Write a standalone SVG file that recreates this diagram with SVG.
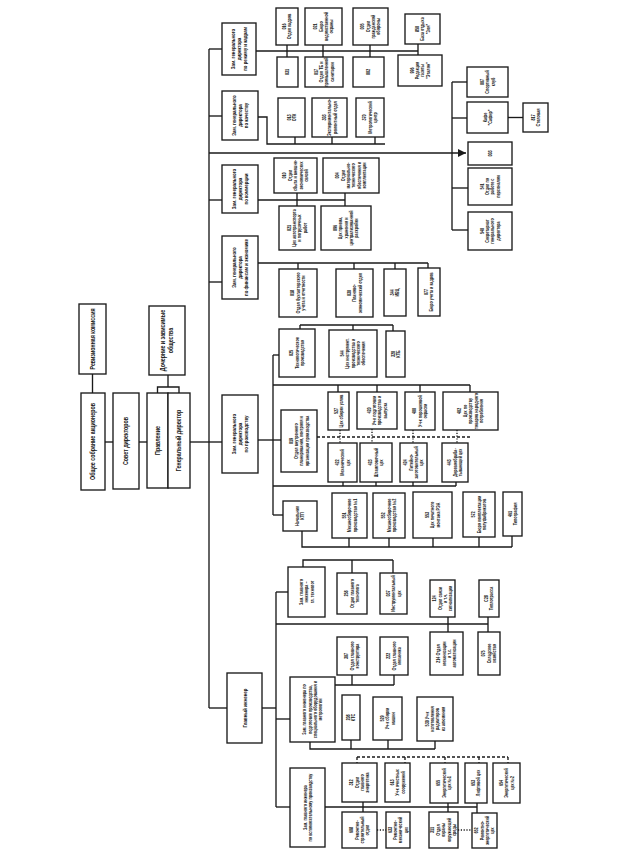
<svg xmlns="http://www.w3.org/2000/svg" width="636" height="853" viewBox="0 0 636 853">
<defs>
<style>
rect{fill:#fff;stroke:#1a1a1a;stroke-width:1.35}
.c line,.c polyline{stroke:#1a1a1a;stroke-width:1.35;fill:none}
.c .d{stroke-dasharray:3 2}
.c .o{stroke-dasharray:1.2 1.6}
text{font-family:"Liberation Sans",Arial,sans-serif;fill:#151515;text-anchor:middle;font-weight:bold}
.s{font-size:4.8px}
.z{font-size:5.6px}
.b{font-size:6.8px}
</style>
<marker id="ar" viewBox="0 0 6 6" refX="6" refY="3" markerWidth="6" markerHeight="6" orient="auto"><path d="M0,0 L6,3 L0,6 z" fill="#1a1a1a"/></marker>
</defs>
<rect x="0" y="0" width="636" height="853" style="fill:#fff;stroke:none"/>

<g class="c" id="connectors">
<line x1="92.5" y1="374" x2="92.5" y2="393"/>
<line x1="105" y1="442" x2="113" y2="442"/>
<line x1="139" y1="442" x2="147" y2="442"/>
<polyline points="168,375 168,387"/>
<polyline points="157.5,393 157.5,387 179,387 179,393"/>
<line x1="190" y1="442" x2="209" y2="442"/>
<line x1="209" y1="49" x2="209" y2="708"/>
<line x1="209" y1="49" x2="222" y2="49"/>
<line x1="209" y1="116" x2="222" y2="116"/>
<line x1="209" y1="153" x2="466" y2="153" marker-end="url(#ar)"/>
<line x1="209" y1="200" x2="222" y2="200"/>
<line x1="209" y1="282" x2="222" y2="282"/>
<line x1="209" y1="442" x2="222" y2="442"/>
<line x1="209" y1="708" x2="227" y2="708"/>
<line x1="256" y1="51" x2="418" y2="51"/>
<line x1="287" y1="45" x2="287" y2="57"/>
<line x1="323" y1="45" x2="323" y2="57"/>
<line x1="370" y1="45" x2="370" y2="57"/>
<line x1="418" y1="44" x2="418" y2="55"/>
<line x1="452" y1="82" x2="452" y2="230"/>
<line x1="452" y1="82" x2="467" y2="82"/>
<line x1="452" y1="118" x2="467" y2="118"/>
<line x1="452" y1="188" x2="468" y2="188"/>
<line x1="452" y1="230" x2="468" y2="230"/>
<line x1="508" y1="117.5" x2="523" y2="117.5"/>
<polyline points="258,117 267,117 267,144 385,144"/>
<line x1="295" y1="137" x2="295" y2="144"/>
<line x1="332" y1="137" x2="332" y2="144"/>
<line x1="375" y1="137" x2="375" y2="144"/>
<line x1="258" y1="200" x2="345" y2="200"/>
<line x1="297" y1="193" x2="297" y2="206"/>
<line x1="345" y1="193" x2="345" y2="206"/>
<line x1="258" y1="263" x2="428" y2="263"/>
<line x1="298" y1="263" x2="298" y2="269"/>
<line x1="354" y1="263" x2="354" y2="269"/>
<line x1="395" y1="263" x2="395" y2="269"/>
<line x1="428" y1="263" x2="428" y2="268"/>
<line x1="258" y1="440" x2="281" y2="440"/>
<line x1="273" y1="355" x2="273" y2="515"/>
<line x1="273" y1="355" x2="279" y2="355"/>
<line x1="300" y1="325" x2="393" y2="325"/>
<line x1="300" y1="325" x2="300" y2="329"/>
<line x1="353" y1="325" x2="353" y2="330"/>
<line x1="393" y1="325" x2="393" y2="331"/>
<line x1="273" y1="385" x2="470" y2="385"/>
<line x1="338" y1="385" x2="338" y2="392"/>
<line x1="377" y1="385" x2="377" y2="392"/>
<line x1="420" y1="385" x2="420" y2="392"/>
<line x1="470" y1="385" x2="470" y2="392"/>
<line class="d" x1="317" y1="437" x2="470" y2="437"/>
<line class="o" x1="340" y1="430" x2="340" y2="443"/>
<line class="o" x1="372" y1="429" x2="372" y2="443"/>
<line class="o" x1="413" y1="430" x2="413" y2="443"/>
<line class="o" x1="457" y1="430" x2="457" y2="443"/>
<line x1="273" y1="486" x2="456" y2="486"/>
<line x1="343" y1="482" x2="343" y2="486"/>
<line x1="376" y1="482" x2="376" y2="486"/>
<line x1="413" y1="482" x2="413" y2="486"/>
<line x1="456" y1="482" x2="456" y2="486"/>
<line x1="273" y1="515" x2="283" y2="515"/>
<polyline points="302,531 302,547 512,547"/>
<line x1="349" y1="538" x2="349" y2="547"/>
<line x1="389" y1="538" x2="389" y2="547"/>
<line x1="433" y1="538" x2="433" y2="547"/>
<line x1="479" y1="537" x2="479" y2="547"/>
<line x1="512" y1="536" x2="512" y2="547"/>
<line x1="262" y1="708" x2="276" y2="708"/>
<line x1="276" y1="592" x2="276" y2="807"/>
<line x1="276" y1="592" x2="288" y2="592"/>
<polyline points="303,567 303,560 393,560"/>
<line x1="352" y1="560" x2="352" y2="573"/>
<line x1="393" y1="560" x2="393" y2="573"/>
<line x1="276" y1="624" x2="488" y2="624"/>
<line x1="448" y1="617" x2="448" y2="632"/>
<line x1="488" y1="617" x2="488" y2="632"/>
<line x1="276" y1="719" x2="290" y2="719"/>
<line x1="335" y1="685" x2="394" y2="685"/>
<line x1="352" y1="675" x2="352" y2="685"/>
<line x1="394" y1="675" x2="394" y2="685"/>
<polyline points="310,742 310,749 435,749"/>
<line x1="351" y1="740" x2="351" y2="749"/>
<line x1="388" y1="740" x2="388" y2="749"/>
<line x1="435" y1="741" x2="435" y2="749"/>
<line x1="276" y1="807" x2="290" y2="807"/>
<line x1="325" y1="807" x2="477" y2="807"/>
<line x1="363" y1="802" x2="363" y2="812"/>
<line x1="448" y1="803" x2="448" y2="812"/>
<line x1="477" y1="803" x2="477" y2="813"/>
<line class="d" x1="357" y1="757" x2="508" y2="757"/>
<line class="d" x1="357" y1="757" x2="357" y2="763"/>
<line class="d" x1="405" y1="757" x2="405" y2="763"/>
<line class="d" x1="445" y1="757" x2="445" y2="763"/>
<line class="d" x1="479" y1="757" x2="479" y2="763"/>
<line class="d" x1="508" y1="757" x2="508" y2="763"/>
<line class="o" x1="377" y1="830" x2="386" y2="830"/>
<line class="o" x1="458" y1="830" x2="472" y2="830"/>
</g>

<g id="revizion"><rect x="79" y="304" width="27" height="70"/><text class="b" transform="translate(92.5,339) rotate(-90) scale(.78,1)"><tspan x="0" dy="2.4">Ревизионная комиссия</tspan></text></g>
<g id="sobranie"><rect x="81" y="393" width="24" height="97"/><text class="b" transform="translate(93,441.5) rotate(-90) scale(.78,1)"><tspan x="0" dy="2.4">Общее собрание акционеров</tspan></text></g>
<g id="sovet"><rect x="113" y="393" width="26" height="96"/><text class="b" transform="translate(126,441) rotate(-90) scale(.78,1)"><tspan x="0" dy="2.4">Совет директоров</tspan></text></g>
<g id="dochernie"><rect x="149" y="306" width="36" height="69"/><text class="b" transform="translate(167,340.5) rotate(-90) scale(.78,1)"><tspan x="0" dy="-1.6">Дочерние и зависимые</tspan><tspan x="0" dy="8">общества</tspan></text></g>
<g id="pravlenie"><rect x="147" y="393" width="21" height="95"/><text class="b" transform="translate(157.5,440.5) rotate(-90) scale(.78,1)"><tspan x="0" dy="2.4">Правление</tspan></text></g>
<g id="gendir"><rect x="168" y="393" width="22" height="95"/><text class="b" transform="translate(179,440.5) rotate(-90) scale(.78,1)"><tspan x="0" dy="2.4">Генеральный директор</tspan></text></g>

<g id="z-rezhim"><rect x="222" y="23" width="34" height="52"/><text class="z" transform="translate(239,49) rotate(-90) scale(.78,1)"><tspan x="0" dy="-4.4">Зам. генерального</tspan><tspan x="0" dy="6.4">директора</tspan><tspan x="0" dy="6.4">по режиму и кадрам</tspan></text></g>
<g id="z-kach"><rect x="222" y="91" width="36" height="49"/><text class="z" transform="translate(240,115.5) rotate(-90) scale(.78,1)"><tspan x="0" dy="-4.4">Зам. генерального</tspan><tspan x="0" dy="6.4">директора</tspan><tspan x="0" dy="6.4">по качеству</tspan></text></g>
<g id="z-komm"><rect x="222" y="165" width="36" height="48"/><text class="z" transform="translate(240,189) rotate(-90) scale(.78,1)"><tspan x="0" dy="-4.4">Зам. генерального</tspan><tspan x="0" dy="6.4">директора</tspan><tspan x="0" dy="6.4">по коммерции</tspan></text></g>
<g id="z-fin"><rect x="222" y="236" width="36" height="63"/><text class="z" transform="translate(240,267.5) rotate(-90) scale(.78,1)"><tspan x="0" dy="-4.4">Зам. генерального</tspan><tspan x="0" dy="6.4">директора</tspan><tspan x="0" dy="6.4">по финансам и экономике</tspan></text></g>
<g id="z-proizv"><rect x="222" y="395" width="36" height="78"/><text class="z" transform="translate(240,434) rotate(-90) scale(.78,1)"><tspan x="0" dy="-4.4">Зам. генерального</tspan><tspan x="0" dy="6.4">директора</tspan><tspan x="0" dy="6.4">по производству</tspan></text></g>
<g id="glinzh"><rect x="227" y="673" width="35" height="70"/><text class="z" transform="translate(244.5,708) rotate(-90) scale(.78,1)"><tspan x="0" dy="2">Главный инженер</tspan></text></g>

<g id="n016"><rect x="276" y="8" width="22" height="37"/><text class="s" transform="translate(287,26.5) rotate(-90) scale(.78,1)"><tspan x="0" dy="-1">016</tspan><tspan x="0" dy="5.4">Отдел кадров</tspan></text></g>
<g id="n021a"><rect x="305" y="8" width="37" height="37"/><text class="s" transform="translate(323.5,26.5) rotate(-90) scale(.78,1)"><tspan x="0" dy="-6.4">021</tspan><tspan x="0" dy="5.4">Бюро</tspan><tspan x="0" dy="5.4">ведомственной</tspan><tspan x="0" dy="5.4">охраны</tspan></text></g>
<g id="n005"><rect x="353" y="8" width="35" height="37"/><text class="s" transform="translate(370.5,26.5) rotate(-90) scale(.78,1)"><tspan x="0" dy="-6.4">005</tspan><tspan x="0" dy="5.4">Отдел</tspan><tspan x="0" dy="5.4">гражданской</tspan><tspan x="0" dy="5.4">обороны</tspan></text></g>
<g id="n850"><rect x="405" y="14" width="35" height="30"/><text class="s" transform="translate(422.5,29) rotate(-90) scale(.78,1)"><tspan x="0" dy="-3.7">850</tspan><tspan x="0" dy="5.4">База отдыха</tspan><tspan x="0" dy="5.4">"Зоя"</tspan></text></g>
<g id="n031a"><rect x="277" y="57" width="21" height="30"/><text class="s" transform="translate(287.5,72) rotate(-90) scale(.78,1)"><tspan x="0" dy="1.7">031</tspan></text></g>
<g id="n017"><rect x="305" y="57" width="38" height="30"/><text class="s" transform="translate(324,72) rotate(-90) scale(.78,1)"><tspan x="0" dy="-6.4">017</tspan><tspan x="0" dy="5.4">Отдел ТБ и</tspan><tspan x="0" dy="5.4">промышленной</tspan><tspan x="0" dy="5.4">санитарии</tspan></text></g>
<g id="n002"><rect x="353" y="57" width="31" height="30"/><text class="s" transform="translate(368.5,72) rotate(-90) scale(.78,1)"><tspan x="0" dy="1.7">002</tspan></text></g>
<g id="n996"><rect x="398" y="55" width="44" height="31"/><text class="s" transform="translate(420,70.5) rotate(-90) scale(.78,1)"><tspan x="0" dy="-6.4">996</tspan><tspan x="0" dy="5.4">Редакция</tspan><tspan x="0" dy="5.4">газеты</tspan><tspan x="0" dy="5.4">"Эталон"</tspan></text></g>

<g id="n007"><rect x="467" y="67" width="41" height="30"/><text class="s" transform="translate(487.5,82) rotate(-90) scale(.78,1)"><tspan x="0" dy="-3.7">007</tspan><tspan x="0" dy="5.4">Спортивный</tspan><tspan x="0" dy="5.4">клуб</tspan></text></g>
<g id="ncafe"><rect x="467" y="102" width="41" height="31"/><text class="s" transform="translate(487.5,117.5) rotate(-90) scale(.78,1)"><tspan x="0" dy="-1">Кафе</tspan><tspan x="0" dy="5.4">"Сафир"</tspan></text></g>
<g id="n817"><rect x="523" y="103" width="25" height="29"/><text class="s" transform="translate(535.5,117.5) rotate(-90) scale(.78,1)"><tspan x="0" dy="-1">817</tspan><tspan x="0" dy="5.4">Столовая</tspan></text></g>
<g id="n003"><rect x="468" y="142" width="44" height="23"/><text class="s" transform="translate(490,153.5) rotate(-90) scale(.78,1)"><tspan x="0" dy="1.7">003</tspan></text></g>
<g id="n541"><rect x="468" y="168" width="44" height="37"/><text class="s" transform="translate(490,186.5) rotate(-90) scale(.78,1)"><tspan x="0" dy="-6.4">541</tspan><tspan x="0" dy="5.4">Отдел по</tspan><tspan x="0" dy="5.4">работе с</tspan><tspan x="0" dy="5.4">персоналом</tspan></text></g>
<g id="n540"><rect x="468" y="212" width="44" height="38"/><text class="s" transform="translate(490,231) rotate(-90) scale(.78,1)"><tspan x="0" dy="-6.4">540</tspan><tspan x="0" dy="5.4">Секретариат</tspan><tspan x="0" dy="5.4">генерального</tspan><tspan x="0" dy="5.4">директора</tspan></text></g>

<g id="n013"><rect x="278" y="98" width="27" height="39"/><text class="s" transform="translate(291.5,117.5) rotate(-90) scale(.78,1)"><tspan x="0" dy="-1">013</tspan><tspan x="0" dy="5.4">ОТК</tspan></text></g>
<g id="n303"><rect x="312" y="98" width="35" height="39"/><text class="s" transform="translate(329.5,117.5) rotate(-90) scale(.78,1)"><tspan x="0" dy="-3.7">303</tspan><tspan x="0" dy="5.4">Экспериментально-</tspan><tspan x="0" dy="5.4">ремонтный отдел</tspan></text></g>
<g id="n370"><rect x="356" y="98" width="28" height="39"/><text class="s" transform="translate(370,117.5) rotate(-90) scale(.78,1)"><tspan x="0" dy="-3.7">370</tspan><tspan x="0" dy="5.4">Метрологический</tspan><tspan x="0" dy="5.4">центр</tspan></text></g>

<g id="n010"><rect x="274" y="158" width="43" height="35"/><text class="s" transform="translate(295.5,175.5) rotate(-90) scale(.78,1)"><tspan x="0" dy="-9.1">010</tspan><tspan x="0" dy="5.4">Отдел</tspan><tspan x="0" dy="5.4">сбыта и внешне-</tspan><tspan x="0" dy="5.4">экономических</tspan><tspan x="0" dy="5.4">связей</tspan></text></g>
<g id="n004"><rect x="323" y="158" width="56" height="35"/><text class="s" transform="translate(351,175.5) rotate(-90) scale(.78,1)"><tspan x="0" dy="-11.8">004</tspan><tspan x="0" dy="5.4">Отдел</tspan><tspan x="0" dy="5.4">материально-</tspan><tspan x="0" dy="5.4">технического</tspan><tspan x="0" dy="5.4">обеспечения и</tspan><tspan x="0" dy="5.4">комплектации</tspan></text></g>
<g id="n021b"><rect x="279" y="206" width="36" height="44"/><text class="s" transform="translate(297,228) rotate(-90) scale(.78,1)"><tspan x="0" dy="-6.4">021</tspan><tspan x="0" dy="5.4">Цех автотранспорта</tspan><tspan x="0" dy="5.4">и погрузочных</tspan><tspan x="0" dy="5.4">работ</tspan></text></g>
<g id="n096"><rect x="321" y="206" width="50" height="44"/><text class="s" transform="translate(346,228) rotate(-90) scale(.78,1)"><tspan x="0" dy="-9.1">096</tspan><tspan x="0" dy="5.4">Цех приема,</tspan><tspan x="0" dy="5.4">хранения и</tspan><tspan x="0" dy="5.4">централизованной</tspan><tspan x="0" dy="5.4">раскройки</tspan></text></g>

<g id="n018"><rect x="279" y="269" width="38" height="48"/><text class="s" transform="translate(298,293) rotate(-90) scale(.78,1)"><tspan x="0" dy="-3.7">018</tspan><tspan x="0" dy="5.4">Отдел бухгалтерского</tspan><tspan x="0" dy="5.4">учета и отчетности</tspan></text></g>
<g id="n030"><rect x="336" y="269" width="37" height="48"/><text class="s" transform="translate(354.5,293) rotate(-90) scale(.78,1)"><tspan x="0" dy="-3.7">030</tspan><tspan x="0" dy="5.4">Планово-</tspan><tspan x="0" dy="5.4">экономический отдел</tspan></text></g>
<g id="n344"><rect x="384" y="269" width="22" height="47"/><text class="s" transform="translate(395,292.5) rotate(-90) scale(.78,1)"><tspan x="0" dy="-1">344</tspan><tspan x="0" dy="5.4">ИВЦ</tspan></text></g>
<g id="n077"><rect x="418" y="268" width="22" height="48"/><text class="s" transform="translate(429,292) rotate(-90) scale(.78,1)"><tspan x="0" dy="-1">077</tspan><tspan x="0" dy="5.4">Бюро учета и кадров</tspan></text></g>

<g id="n025"><rect x="279" y="329" width="36" height="48"/><text class="s" transform="translate(297,353) rotate(-90) scale(.78,1)"><tspan x="0" dy="-3.7">025</tspan><tspan x="0" dy="5.4">Технологическое</tspan><tspan x="0" dy="5.4">производство</tspan></text></g>
<g id="n544"><rect x="329" y="330" width="48" height="47"/><text class="s" transform="translate(353,353.5) rotate(-90) scale(.78,1)"><tspan x="0" dy="-9.1">544</tspan><tspan x="0" dy="5.4">Цех инструмент.</tspan><tspan x="0" dy="5.4">производства и</tspan><tspan x="0" dy="5.4">технического</tspan><tspan x="0" dy="5.4">обеспечения</tspan></text></g>
<g id="n320"><rect x="386" y="331" width="19" height="46"/><text class="s" transform="translate(395.5,354) rotate(-90) scale(.78,1)"><tspan x="0" dy="-1">320</tspan><tspan x="0" dy="5.4">КТБ</tspan></text></g>
<g id="n527"><rect x="328" y="392" width="21" height="38"/><text class="s" transform="translate(338.5,411) rotate(-90) scale(.78,1)"><tspan x="0" dy="-1">527</tspan><tspan x="0" dy="5.4">Цех сборки узлов</tspan></text></g>
<g id="n420"><rect x="357" y="392" width="40" height="37"/><text class="s" transform="translate(377,410.5) rotate(-90) scale(.78,1)"><tspan x="0" dy="-6.4">420</tspan><tspan x="0" dy="5.4">Уч-к подготовки</tspan><tspan x="0" dy="5.4">производства и</tspan><tspan x="0" dy="5.4">выпуска</tspan></text></g>
<g id="n400"><rect x="405" y="392" width="30" height="38"/><text class="s" transform="translate(420,411) rotate(-90) scale(.78,1)"><tspan x="0" dy="-3.7">400</tspan><tspan x="0" dy="5.4">Уч-к порошковой</tspan><tspan x="0" dy="5.4">окраски</tspan></text></g>
<g id="n402"><rect x="443" y="392" width="55" height="38"/><text class="s" transform="translate(470.5,411) rotate(-90) scale(.78,1)"><tspan x="0" dy="-9.1">402</tspan><tspan x="0" dy="5.4">Цех по</tspan><tspan x="0" dy="5.4">производству</tspan><tspan x="0" dy="5.4">товаров народного</tspan><tspan x="0" dy="5.4">потребления</tspan></text></g>
<g id="n019"><rect x="281" y="410" width="36" height="62"/><text class="s" transform="translate(299,441) rotate(-90) scale(.78,1)"><tspan x="0" dy="-6.4">019</tspan><tspan x="0" dy="5.4">Отдел внутреннего</tspan><tspan x="0" dy="5.4">планирования, контроля и</tspan><tspan x="0" dy="5.4">организации производства</tspan></text></g>
<g id="n422"><rect x="328" y="443" width="29" height="39"/><text class="s" transform="translate(342.5,462.5) rotate(-90) scale(.78,1)"><tspan x="0" dy="-3.7">422</tspan><tspan x="0" dy="5.4">Механический</tspan><tspan x="0" dy="5.4">цех</tspan></text></g>
<g id="n423"><rect x="360" y="443" width="32" height="39"/><text class="s" transform="translate(376,462.5) rotate(-90) scale(.78,1)"><tspan x="0" dy="-3.7">423</tspan><tspan x="0" dy="5.4">Штамповочный</tspan><tspan x="0" dy="5.4">цех</tspan></text></g>
<g id="n424"><rect x="400" y="443" width="27" height="39"/><text class="s" transform="translate(413.5,462.5) rotate(-90) scale(.78,1)"><tspan x="0" dy="-6.4">424</tspan><tspan x="0" dy="5.4">Литейно-</tspan><tspan x="0" dy="5.4">заготовительный</tspan><tspan x="0" dy="5.4">цех</tspan></text></g>
<g id="n443"><rect x="442" y="443" width="26" height="39"/><text class="s" transform="translate(455,462.5) rotate(-90) scale(.78,1)"><tspan x="0" dy="-3.7">443</tspan><tspan x="0" dy="5.4">Деревообраба-</tspan><tspan x="0" dy="5.4">тывающий цех</tspan></text></g>
<g id="nnach"><rect x="283" y="501" width="34" height="30"/><text class="s" transform="translate(300,516) rotate(-90) scale(.78,1)"><tspan x="0" dy="-1">Начальник</tspan><tspan x="0" dy="5.4">КТП</tspan></text></g>
<g id="n551"><rect x="332" y="493" width="35" height="45"/><text class="s" transform="translate(349.5,515.5) rotate(-90) scale(.78,1)"><tspan x="0" dy="-3.7">551</tspan><tspan x="0" dy="5.4">Механосборочное</tspan><tspan x="0" dy="5.4">производство №1</tspan></text></g>
<g id="n552"><rect x="373" y="493" width="32" height="45"/><text class="s" transform="translate(389,515.5) rotate(-90) scale(.78,1)"><tspan x="0" dy="-3.7">552</tspan><tspan x="0" dy="5.4">Механосборочное</tspan><tspan x="0" dy="5.4">производство №2</tspan></text></g>
<g id="n553"><rect x="413" y="492" width="39" height="46"/><text class="s" transform="translate(432.5,515) rotate(-90) scale(.78,1)"><tspan x="0" dy="-3.7">553</tspan><tspan x="0" dy="5.4">Цех печатного</tspan><tspan x="0" dy="5.4">монтажа РЭА</tspan></text></g>
<g id="n572"><rect x="463" y="492" width="32" height="45"/><text class="s" transform="translate(479,514.5) rotate(-90) scale(.78,1)"><tspan x="0" dy="-3.7">572</tspan><tspan x="0" dy="5.4">Бюро комплектации</tspan><tspan x="0" dy="5.4">полуфабрикатов</tspan></text></g>
<g id="n461"><rect x="503" y="492" width="19" height="44"/><text class="s" transform="translate(512.5,514) rotate(-90) scale(.78,1)"><tspan x="0" dy="-1">461</tspan><tspan x="0" dy="5.4">Типография</tspan></text></g>

<g id="zgt"><rect x="288" y="567" width="37" height="50"/><text class="s" transform="translate(306.5,592) rotate(-90) scale(.78,1)"><tspan x="0" dy="-3.7">Зам. главного</tspan><tspan x="0" dy="5.4">инженера –</tspan><tspan x="0" dy="5.4">гл. технолог</tspan></text></g>
<g id="n258"><rect x="337" y="573" width="30" height="41"/><text class="s" transform="translate(352,593.5) rotate(-90) scale(.78,1)"><tspan x="0" dy="-3.7">258</tspan><tspan x="0" dy="5.4">Отдел главного</tspan><tspan x="0" dy="5.4">технолога</tspan></text></g>
<g id="n037"><rect x="380" y="573" width="27" height="41"/><text class="s" transform="translate(393.5,593.5) rotate(-90) scale(.78,1)"><tspan x="0" dy="-3.7">037</tspan><tspan x="0" dy="5.4">Инструментальный</tspan><tspan x="0" dy="5.4">цех</tspan></text></g>
<g id="n124"><rect x="430" y="580" width="25" height="37"/><text class="s" transform="translate(442.5,598.5) rotate(-90) scale(.78,1)"><tspan x="0" dy="-6.4">124</tspan><tspan x="0" dy="5.4">Отдел связи</tspan><tspan x="0" dy="5.4">и т.ч.</tspan><tspan x="0" dy="5.4">сигнализации</tspan></text></g>
<g id="nc28"><rect x="479" y="580" width="20" height="37"/><text class="s" transform="translate(489,598.5) rotate(-90) scale(.78,1)"><tspan x="0" dy="-1">С28</tspan><tspan x="0" dy="5.4">Теплотрасса</tspan></text></g>
<g id="n214"><rect x="430" y="632" width="33" height="43"/><text class="s" transform="translate(446.5,653.5) rotate(-90) scale(.78,1)"><tspan x="0" dy="-6.4">214 Отдел</tspan><tspan x="0" dy="5.4">механизации</tspan><tspan x="0" dy="5.4">и т.с.</tspan><tspan x="0" dy="5.4">автоматизации</tspan></text></g>
<g id="n075"><rect x="478" y="632" width="22" height="43"/><text class="s" transform="translate(489,653.5) rotate(-90) scale(.78,1)"><tspan x="0" dy="-3.7">075</tspan><tspan x="0" dy="5.4">Складское</tspan><tspan x="0" dy="5.4">хозяйство</tspan></text></g>
<g id="n307"><rect x="337" y="637" width="30" height="38"/><text class="s" transform="translate(352,656) rotate(-90) scale(.78,1)"><tspan x="0" dy="-3.7">307</tspan><tspan x="0" dy="5.4">Отдел главного</tspan><tspan x="0" dy="5.4">конструктора</tspan></text></g>
<g id="n222"><rect x="380" y="637" width="28" height="38"/><text class="s" transform="translate(394,656) rotate(-90) scale(.78,1)"><tspan x="0" dy="-3.7">222</tspan><tspan x="0" dy="5.4">Отдел главного</tspan><tspan x="0" dy="5.4">механика</tspan></text></g>
<g id="zpp"><rect x="290" y="677" width="45" height="65"/><text class="s" transform="translate(312.5,709.5) rotate(-90) scale(.78,1)"><tspan x="0" dy="-6.4">Зам. главного инженера по</tspan><tspan x="0" dy="5.4">подготовке производства,</tspan><tspan x="0" dy="5.4">специального оборудования и</tspan><tspan x="0" dy="5.4">метрологии</tspan></text></g>
<g id="n208"><rect x="342" y="695" width="18" height="45"/><text class="s" transform="translate(351,717.5) rotate(-90) scale(.78,1)"><tspan x="0" dy="-1">208</tspan><tspan x="0" dy="5.4">КТС</tspan></text></g>
<g id="n529"><rect x="373" y="697" width="29" height="43"/><text class="s" transform="translate(387.5,718.5) rotate(-90) scale(.78,1)"><tspan x="0" dy="-3.7">529</tspan><tspan x="0" dy="5.4">Уч-к сборки</tspan><tspan x="0" dy="5.4">машин</tspan></text></g>
<g id="n530"><rect x="417" y="697" width="36" height="44"/><text class="s" transform="translate(435,719) rotate(-90) scale(.78,1)"><tspan x="0" dy="-6.4">530 Уч-к</tspan><tspan x="0" dy="5.4">изготовления</tspan><tspan x="0" dy="5.4">радиаторов</tspan><tspan x="0" dy="5.4">из алюминия</tspan></text></g>
<g id="zvp"><rect x="290" y="768" width="35" height="79"/><text class="s" transform="translate(307.5,807.5) rotate(-90) scale(.78,1)"><tspan x="0" dy="-1">Зам. главного инженера</tspan><tspan x="0" dy="5.4">по вспомогательному производству</tspan></text></g>
<g id="n312"><rect x="342" y="763" width="35" height="39"/><text class="s" transform="translate(359.5,782.5) rotate(-90) scale(.78,1)"><tspan x="0" dy="-6.4">312</tspan><tspan x="0" dy="5.4">Отдел</tspan><tspan x="0" dy="5.4">главного</tspan><tspan x="0" dy="5.4">энергетика</tspan></text></g>
<g id="n613"><rect x="385" y="763" width="25" height="39"/><text class="s" transform="translate(397.5,782.5) rotate(-90) scale(.78,1)"><tspan x="0" dy="-3.7">613</tspan><tspan x="0" dy="5.4">Уч-к очистных</tspan><tspan x="0" dy="5.4">сооружений</tspan></text></g>
<g id="n655"><rect x="430" y="763" width="28" height="40"/><text class="s" transform="translate(444,783) rotate(-90) scale(.78,1)"><tspan x="0" dy="-3.7">655</tspan><tspan x="0" dy="5.4">Энергетический</tspan><tspan x="0" dy="5.4">цех №1</tspan></text></g>
<g id="n653"><rect x="465" y="763" width="22" height="40"/><text class="s" transform="translate(476,783) rotate(-90) scale(.78,1)"><tspan x="0" dy="-1">653</tspan><tspan x="0" dy="5.4">Лифтовой цех</tspan></text></g>
<g id="n654"><rect x="493" y="763" width="27" height="40"/><text class="s" transform="translate(506.5,783) rotate(-90) scale(.78,1)"><tspan x="0" dy="-3.7">654</tspan><tspan x="0" dy="5.4">Энергетический</tspan><tspan x="0" dy="5.4">цех №2</tspan></text></g>
<g id="n608"><rect x="342" y="812" width="35" height="36"/><text class="s" transform="translate(359.5,830) rotate(-90) scale(.78,1)"><tspan x="0" dy="-6.4">608</tspan><tspan x="0" dy="5.4">Ремонтно-</tspan><tspan x="0" dy="5.4">строительный</tspan><tspan x="0" dy="5.4">отдел</tspan></text></g>
<g id="n633"><rect x="386" y="812" width="24" height="36"/><text class="s" transform="translate(398,830) rotate(-90) scale(.78,1)"><tspan x="0" dy="-6.4">633</tspan><tspan x="0" dy="5.4">Ремонтно-</tspan><tspan x="0" dy="5.4">механический</tspan><tspan x="0" dy="5.4">цех</tspan></text></g>
<g id="n311"><rect x="429" y="812" width="29" height="36"/><text class="s" transform="translate(443.5,830) rotate(-90) scale(.78,1)"><tspan x="0" dy="-9.1">311</tspan><tspan x="0" dy="5.4">Отдел</tspan><tspan x="0" dy="5.4">охраны</tspan><tspan x="0" dy="5.4">окружающей</tspan><tspan x="0" dy="5.4">среды</tspan></text></g>
<g id="n652"><rect x="472" y="813" width="25" height="35"/><text class="s" transform="translate(484.5,830.5) rotate(-90) scale(.78,1)"><tspan x="0" dy="-6.4">652</tspan><tspan x="0" dy="5.4">Ремонтно-</tspan><tspan x="0" dy="5.4">энергетический</tspan><tspan x="0" dy="5.4">цех</tspan></text></g>
</svg>
